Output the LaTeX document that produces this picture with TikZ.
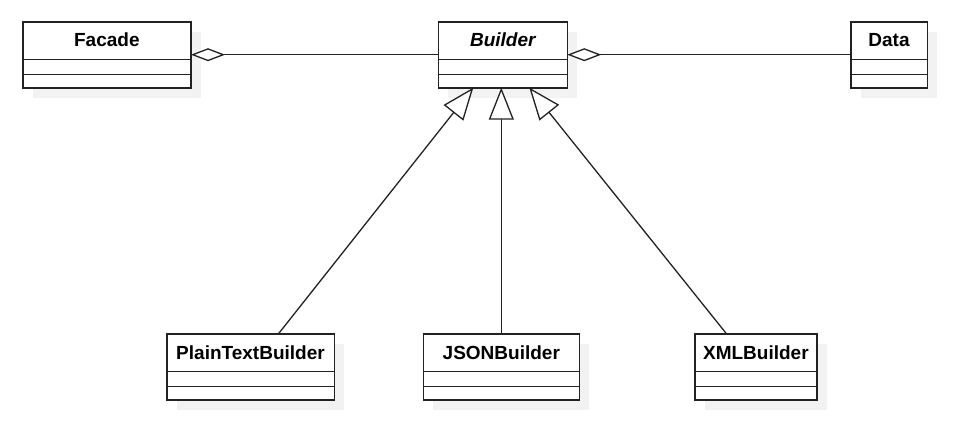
\documentclass[tikz,border=0pt]{standalone}
\usepackage{fontspec}
\setmainfont{Liberation Sans}
\usetikzlibrary{arrows.meta}
\definecolor{shadowc}{HTML}{F2F2F2}
\definecolor{linec}{HTML}{222222}
\newcommand\umlclass[6]{%
  \fill[shadowc] (#2-#4/2+10,#3+10) rectangle ++(#4,66);
  \node[clsbox, minimum width=#4pt, anchor=north] (#1) at (#2,#3) {};
  \draw[divider] ([yshift=-37.6pt]#1.north west) -- ([yshift=-37.6pt]#1.north east);
  \draw[divider] ([yshift=-52.6pt]#1.north west) -- ([yshift=-52.6pt]#1.north east);
  \node[clstext, font=#6, anchor=base] (#1-t) at ([yshift=-25pt]#1.north) {#5};
}
\begin{document}
\begin{tikzpicture}[x=1pt,y=-1pt,
  clsbox/.style={draw=linec, line width=1.6pt, fill=white, inner sep=0pt, outer sep=0pt, minimum height=66pt},
  divider/.style={draw=linec, line width=1.3pt},
  clstext/.style={inner sep=0pt},
  namefont/.style={},
  agg/.style={draw=linec, line width=1.3pt, {Diamond[open,fill=white,length=34pt,width=13pt]}-},
  inh/.style={draw=linec, line width=1.3pt, -{Triangle[open,fill=white,length=32pt,width=25pt]}}]
\useasboundingbox (0,0) rectangle (955,440);
\umlclass{facade}{106.85}{21.7}{168.3}{Facade}{\fontsize{19pt}{22pt}\selectfont\bfseries}
\umlclass{builder}{502.8}{21.7}{129}{Builder}{\fontsize{19pt}{22pt}\selectfont\bfseries\itshape}
\umlclass{data}{889}{21.7}{76.6}{Data}{\fontsize{19pt}{22pt}\selectfont\bfseries}
\umlclass{ptb}{250.5}{334}{167.6}{PlainTextBuilder}{\fontsize{19pt}{22pt}\selectfont\bfseries}
\umlclass{json}{501.3}{334}{156}{JSONBuilder}{\fontsize{19pt}{22pt}\selectfont\bfseries}
\umlclass{xml}{755.85}{334}{121.7}{XMLBuilder}{\fontsize{19pt}{22pt}\selectfont\bfseries}
\draw[agg] ([yshift=0pt]facade.east) -- (builder.west);
\draw[agg] (builder.east) -- (data.west);
\draw[inh] ([xshift=27.8pt]ptb.north) -- ([xshift=-29.5pt]builder.south);
\draw[inh] (json.north) -- (json.north |- builder.south);
\draw[inh] ([xshift=-29.2pt]xml.north) -- ([xshift=26.5pt]builder.south);
\end{tikzpicture}
\end{document}
